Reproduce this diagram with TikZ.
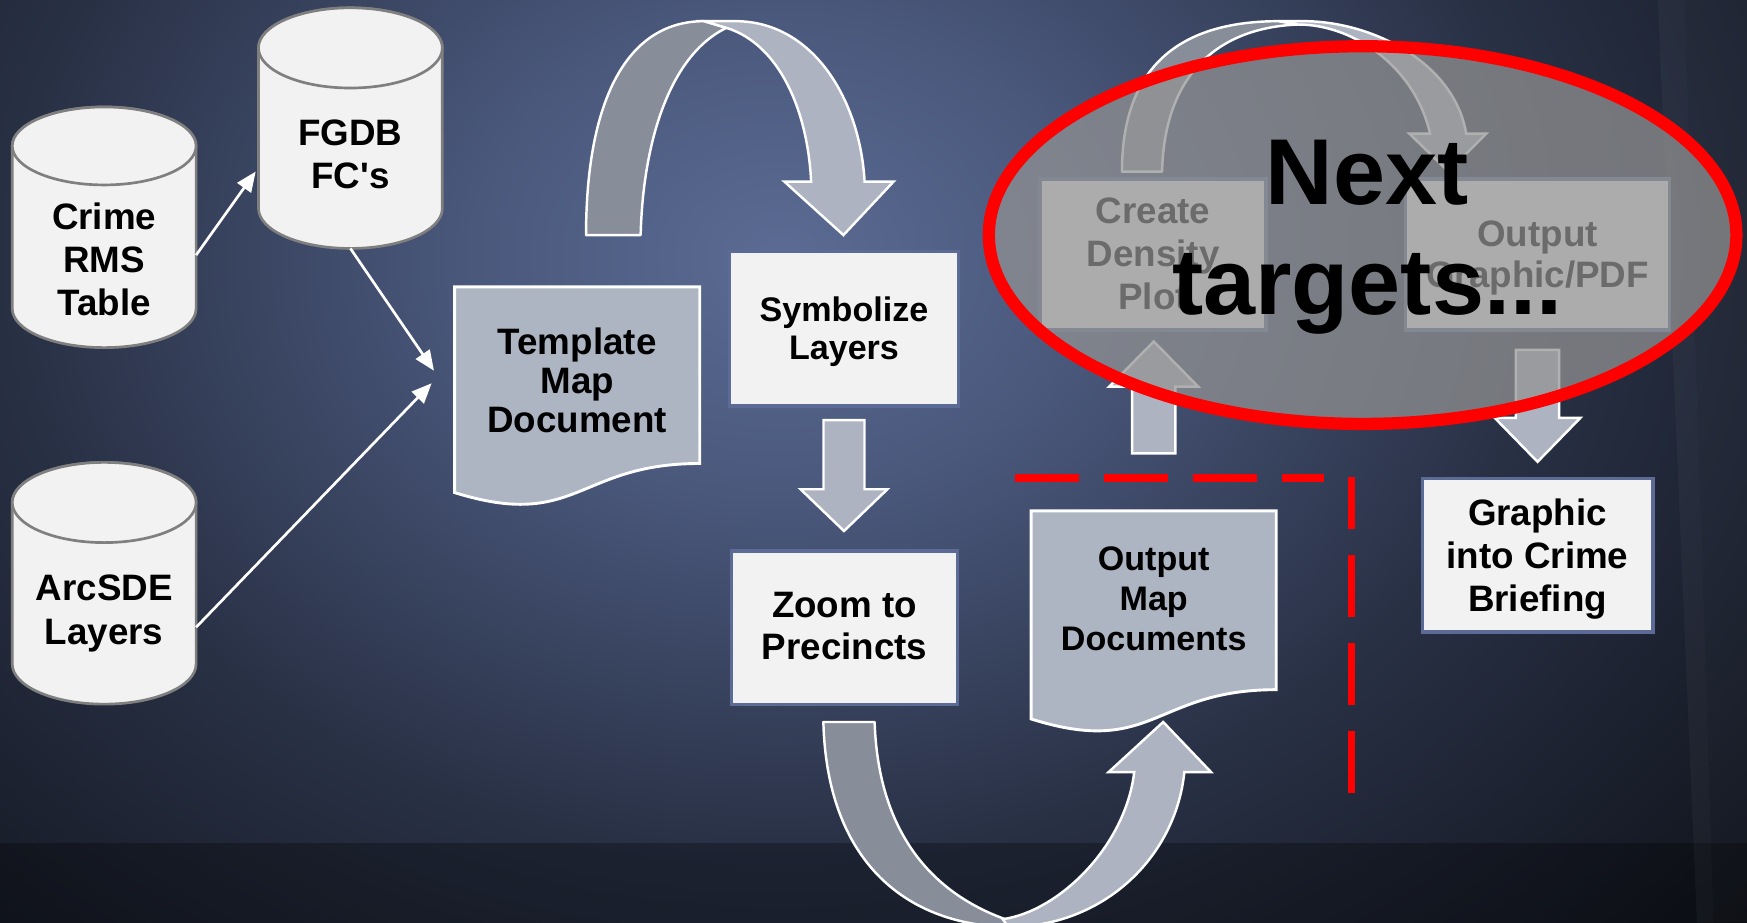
\documentclass[tikz,border=0pt]{standalone}
\usepackage{fontspec}
\setmainfont{Liberation Sans}[Ligatures=TeXOff]
\usetikzlibrary{arrows.meta,calc}

% palette
\definecolor{glowA}{HTML}{5B6B93}
\definecolor{glowB}{HTML}{4A587C}
\definecolor{glowC}{HTML}{283044}
\definecolor{glowD}{HTML}{10131B}
\definecolor{paper}{HTML}{F2F2F2}
\definecolor{drumline}{HTML}{7F7F7F}
\definecolor{boxline}{HTML}{5B6B96}
\definecolor{docfill}{HTML}{ADB4C2}
\definecolor{bandlight}{HTML}{ADB3C1}
\definecolor{banddark}{HTML}{878D99}
\definecolor{veil}{HTML}{939393}
\definecolor{alarm}{HTML}{FF0000}

% radial glow; 25bp is the rim of the shaded path
\pgfdeclareradialshading{slideglow}{\pgfpoint{0bp}{0bp}}{%
  color(0bp)=(glowA); color(6bp)=(glowB); color(15bp)=(glowC); color(25bp)=(glowD); color(50bp)=(glowD)}

% database drum: x-left, x-right, y-top, y-bottom, end-ellipse radius
\newcommand\drumshape[5]{%
  \pgfmathsetmacro\drumrx{(#2-#1)/2}%
  \pgfmathsetmacro\drumcx{(#1+#2)/2}%
  \filldraw[drum] (#1,#3+#5) -- (#1,#4-#5)
     arc[start angle=180, end angle=0, x radius=\drumrx, y radius=#5]
     -- (#2,#3+#5)
     arc[start angle=0, end angle=-180, x radius=\drumrx, y radius=#5] -- cycle;
  \draw[drum] (\drumcx,#3+#5) ellipse [x radius=\drumrx, y radius=#5];}

% vertical block arrow: from, to (tip), shaft half width, head half width, head length
\newcommand\vblock[5]{%
  \path[blockarrow] let \p1=#1, \p2=#2, \n1={(\y1>\y2)*2-1} in
    (\x1-#3,\y1) -- (\x1+#3,\y1) -- (\x1+#3,{\y2+(\n1)*(#5)})
    -- (\x1+#4,{\y2+(\n1)*(#5)}) -- (\x1,\y2) -- (\x1-#4,{\y2+(\n1)*(#5)})
    -- (\x1-#3,{\y2+(\n1)*(#5)}) -- cycle;}

\begin{document}
\begin{tikzpicture}[x=0.5pt,y=-0.5pt,
  hull/.style={rectangle,draw=none,inner sep=0pt,outer sep=0pt},
  drum/.style={fill=paper,draw=drumline,line width=1.2pt},
  lbl/.style={font=\fontsize{16.5pt}{19pt}\selectfont\bfseries,align=center,inner sep=0pt},
  doc/.style={fill=docfill,draw=white,line width=1.3pt},
  proc/.style={rectangle,fill=paper,draw=boxline,line width=1.6pt,inner sep=0pt,outer sep=0pt},
  link/.style={draw=white,line width=1.2pt,-{Triangle[length=9pt,width=7.5pt]}},
  blockarrow/.style={fill=bandlight,draw=white,line width=1.1pt,line join=miter},
  ribbonback/.style={fill=banddark,draw=white,line width=1.1pt,line join=round},
  ribbonfront/.style={fill=bandlight,draw=white,line width=1.1pt,line join=miter},
  cutline/.style={draw=alarm,line width=3.4pt}]

\clip (0,0) rectangle (1568,828);

% slide background
\fill[glowD] (0,0) rectangle (1568,828);
\shade[shading=slideglow] (700,230) ellipse [x radius=1150, y radius=900];
\fill[black,opacity=.28] (0,757) rectangle (1568,828);
\fill[white,opacity=.035] (1488,0) -- (1512,0) -- (1538,828) -- (1523,828) -- cycle;
\fill[white,opacity=.018] (1512,0) -- (1568,0) -- (1568,828) -- (1538,828) -- cycle;

% data sources
\drumshape{11}{176}{96}{312}{35}
\drumshape{232}{397}{7}{223}{36}
\drumshape{11}{176}{415}{632}{36}
\node[hull,minimum width=82.5pt,minimum height=108pt] (crime) at (93.5,204) {};
\node[hull,minimum width=82.5pt,minimum height=108pt] (fgdb) at (314.5,115) {};
\node[hull,minimum width=82.5pt,minimum height=108.5pt] (arcsde) at (93.5,523.5) {};
\node[lbl,font=\fontsize{16.5pt}{19.25pt}\selectfont\bfseries] (crimetxt) at (93.5,233) {Crime\\RMS\\Table};
\node[lbl] (fgdbtxt) at (314.5,138.6) {FGDB\\FC's};
\node[lbl,font=\fontsize{16.5pt}{20pt}\selectfont\bfseries] (arcsdetxt) at (93.5,550.5) {ArcSDE\\Layers};

% template document
\filldraw[doc] (408,257.5) -- (628,257.5) -- (628,416)
  .. controls (518,416) and (518,476.4) .. (408,442.1) -- cycle;
\node[hull,minimum width=110pt,minimum height=84pt,
  font=\fontsize{16.5pt}{17.5pt}\selectfont\bfseries,align=center] (tmpl) at (518,341.5)
  {Template\\Map\\Document};

% inputs
\draw[link] ([yshift=-12.5pt]crime.east) -- ([xshift=-1.25pt,yshift=-19.5pt]fgdb.west);
\draw[link] (fgdb.south) -- ([xshift=-9.25pt,yshift=4.4pt]tmpl.west);
\draw[link] ([yshift=-19.75pt]arcsde.east) -- ([xshift=-10.3pt,yshift=-1.25pt]tmpl.west);

% processing steps
\node[proc,minimum width=102.9pt,minimum height=69.4pt] (sym) at (757.5,295) {};
\node[proc,minimum width=101.4pt,minimum height=68.9pt] (zoom) at (758,563.5) {};
\node[proc,minimum width=101.4pt,minimum height=67.9pt] (create) at (1035,228.5) {};
\node[proc,minimum width=118.4pt,minimum height=67.9pt] (outgfx) at (1380,228.5) {};
\node[proc,minimum width=103.4pt,minimum height=68.9pt] (graphic) at (1380,498.5) {};
\node[lbl,font=\fontsize{15.3pt}{17.25pt}\selectfont\bfseries] (symtxt) at (757.5,297.9) {Symbolize\\Layers};
\node[lbl] (zoomtxt) at (758,562) {Zoom to\\Precincts};
\node[lbl,font=\fontsize{16.5pt}{19.4pt}\selectfont\bfseries] (createtxt) at (1035,227.8) {Create\\Density\\Plot};
\node[lbl,font=\fontsize{16.5pt}{18pt}\selectfont\bfseries] (outgfxtxt) at (1380,231.5) {Output\\Graphic/PDF};
\node[lbl,font=\fontsize{16.5pt}{19.3pt}\selectfont\bfseries] (graphictxt) at (1380,501.9) {Graphic\\into Crime\\Briefing};

% output documents
\filldraw[doc] (925.5,458.5) -- (1145.5,458.5) -- (1145.5,619)
  .. controls (1035.5,619) and (1035.5,680) .. (925.5,645.3) -- cycle;
\node[hull,minimum width=110pt,minimum height=79.1pt,
  font=\fontsize{15.3pt}{18pt}\selectfont\bfseries,align=center] (outmap) at (1035.5,537.6)
  {Output\\Map\\Documents};

% template -> symbolize (curved ribbon)
\filldraw[ribbonback] (526,211) .. controls (526,95) and (560,19) .. (632,19)
  -- (652,25) .. controls (600,50) and (577,130) .. (575,211) -- cycle;
\filldraw[ribbonfront] (632,19) -- (660,19) .. controls (730,19) and (772,90) .. (776,163)
  -- (802,163) -- (757,211) -- (704,163) -- (728,163)
  .. controls (725,100) and (700,40) .. (652,25) -- cycle;

% zoom -> output documents (curved ribbon)
\filldraw[ribbonback] (739,648) -- (785,648) .. controls (788,740) and (830,800) .. (905,826)
  -- (905,832) .. controls (810,830) and (742,770) .. (739,648) -- cycle;
\filldraw[ribbonfront] (1018,693) -- (995,693) -- (1044,648) -- (1087,693) -- (1063,693)
  .. controls (1055,770) and (990,832) .. (905,832) -- (900,825)
  .. controls (950,818) and (1010,760) .. (1018,693) -- cycle;

% create -> output graphic (curved ribbon)
\filldraw[ribbonback] (1007,154) .. controls (1007,50) and (1070,19) .. (1148,19)
  -- (1165,22) .. controls (1090,25) and (1045,70) .. (1043,154) -- cycle;
\filldraw[ribbonfront] (1148,19) -- (1170,19) .. controls (1230,19) and (1305,55) .. (1316,120)
  -- (1334,120) -- (1300,154) -- (1265,120) -- (1283.5,120)
  .. controls (1270,60) and (1215,22) .. (1165,22) -- cycle;

% straight block arrows
\vblock{([yshift=-6.35pt]sym.south)}{([yshift=9pt]zoom.north)}{9.2pt}{19.5pt}{18.75pt}
\vblock{([yshift=25.8pt]outmap.north)}{([yshift=-5.05pt]create.south)}{9.7pt}{20pt}{20.3pt}
\vblock{([yshift=-8.85pt]outgfx.south)}{([yshift=7.55pt]graphic.north)}{9.7pt}{19.2pt}{19.7pt}

% scope boundary
\draw[cutline,dash pattern=on 28.5pt off 11.5pt] (911,429) -- (1188,429);
\draw[cutline,dash pattern=on 28pt off 11.5pt] (1213,712) -- (1213,428);

% upcoming work highlight
\fill[veil,opacity=.73] (1223,211) ellipse [x radius=335.5, y radius=169.5];
\draw[alarm,line width=5.5pt] (1223,211) ellipse [x radius=335.5, y radius=169.5];
\node[font=\fontsize{42pt}{49.5pt}\selectfont\bfseries,align=center,inner sep=0pt]
  (nexttxt) at (1227,213) {Next\\targets...};
\end{tikzpicture}
\end{document}
